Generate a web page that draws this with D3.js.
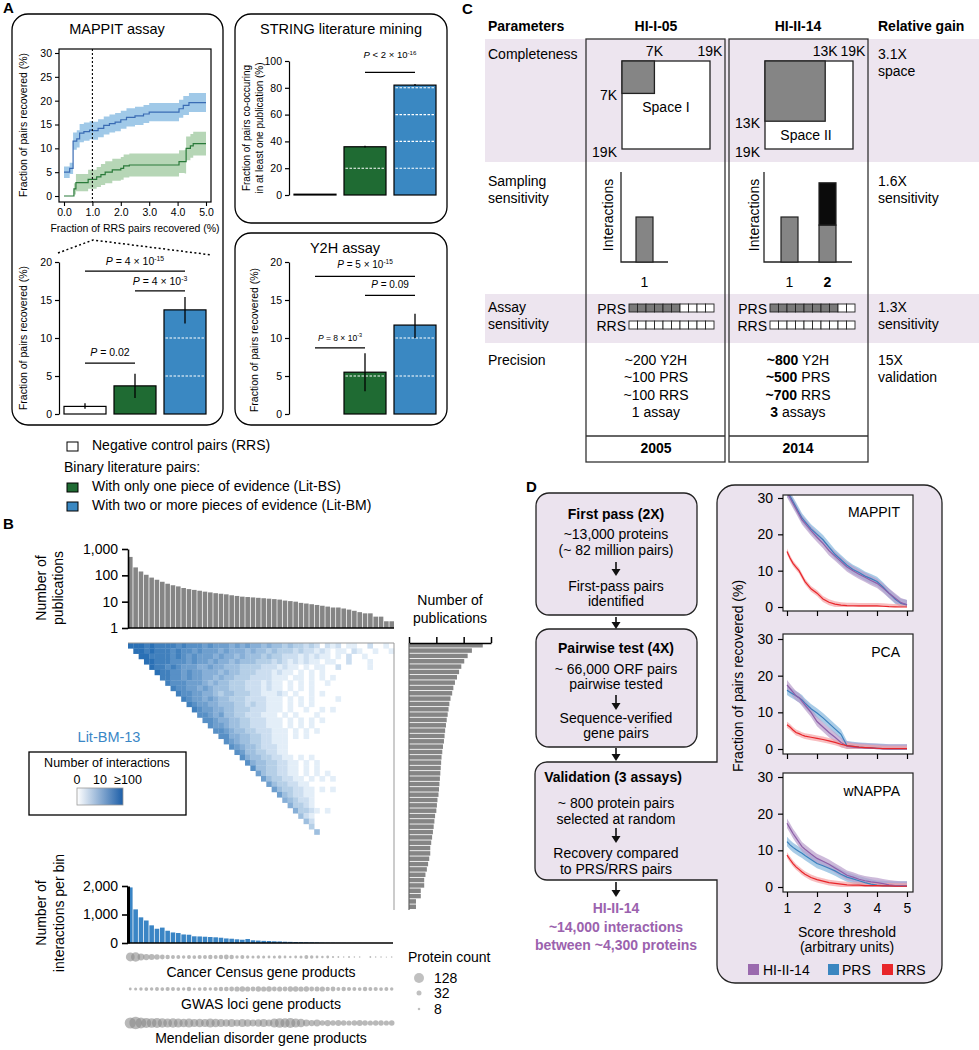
<!DOCTYPE html>
<html><head><meta charset="utf-8">
<script src="https://cdn.jsdelivr.net/npm/d3@7/dist/d3.min.js"></script>
<style>html,body{margin:0;padding:0;background:#fff;}</style>
</head><body>
<script>
// ================= DATA =================
const groups = ["RRS", "Lit-BS", "Lit-BM"];
const groupFill = ["#ffffff", "#1f6b33", "#3a88c2"];
const legendLabels = ["Negative control pairs (RRS)", "With only one piece of evidence (Lit-BS)", "With two or more pieces of evidence (Lit-BM)"];

// Panel A – MAPPIT recovery curves
const mapX_BM = [0,0.15,0.2,0.29,0.32,0.45,0.55,0.7,0.9,1.0,1.2,1.4,1.6,1.8,2.0,2.2,2.5,2.8,3.0,3.5,3.95,4.05,4.2,4.4,5.0];
const mapY_BM = [5,5,5.8,5.8,11.5,12,13.2,13.5,13.8,13.7,14.2,14.8,15.2,15.5,16,16.5,16.8,17.2,17.6,17.6,17.6,18.3,19,19.6,19.6];
const mapH_BM = [1.2,1.2,1.2,1.2,1.8,1.8,1.9,1.9,1.9,1.9,1.9,1.9,1.9,1.9,1.9,1.9,1.9,1.9,1.9,1.9,1.9,1.9,2,2,2];
const mapX_BS = [0,0.3,0.35,0.42,0.7,0.85,1.0,1.15,1.3,1.45,1.6,1.7,2.0,2.1,2.3,4.0,4.05,4.25,4.3,4.45,4.55,5.0];
const mapY_BS = [0,0,1.5,2.8,2.8,3.5,3.5,4,4.5,5,5,5.5,5.8,6.3,6.5,6.5,7.2,7.2,10,10.5,11,11];
const mapH_BS = [0,0,1.2,1.8,1.8,2,2,2.1,2.2,2.3,2.3,2.3,2.4,2.4,2.4,2.4,2.4,2.5,2.5,2.5,2.5,2.5];
const mapXTicks = [0,1,2,3,4,5];
const mapYTicks = [0,5,10,15,20,25,30];

// Panel A – bar charts
const mappitBar = [1.0, 3.7, 13.7], mappitLo = [0.7, 2.1, 11.9], mappitHi = [1.4, 5.3, 15.4];
const stringBar = [0.6, 36, 82],    stringLo = [0.4, 35.4, 81.5], stringHi = [0.8, 36.8, 82.8];
const y2hBar = [0, 5.5, 11.7],      y2hLo = [0, 3.0, 10.0],       y2hHi = [0, 8.0, 13.2];
const mappitP = [{a:0,b:2,op:"=",m:"4",e:"-15"},{a:1,b:2,op:"=",m:"4",e:"-3"},{a:0,b:1,op:"=",m:"0.02"}];
const stringP = [{a:1,b:2,op:"<",m:"2",e:"-16"}];
const y2hP = [{a:0,b:2,op:"=",m:"5",e:"-15"},{a:1,b:2,op:"=",m:"0.09"},{a:0,b:1,op:"=",m:"8",e:"-3"}];

// Panel B
const pubs = [500,200,140,105,82,68,57,48,42,38,33,30,28,26,24,22.5,21,20,19,17.5,16.5,15.5,15,14.5,14,13.5,13,12.5,12,11,10.5,10,9,8.5,8,7.5,7,6.5,6,6,5.5,5,4.5,4,3.6,3.6,2.7,2.7,1.8,1.8];
const pubTicks = [1,10,100,1000];
const heatRows = [
"99989888878777676665656554544343323202120110020010",
"9989888787767666565554544343332322121011021001001",
"998888787676665655454443433222121211010200100",
"99888777676656554544433323212121101100200010",
"9887876665565544433332221211010110020000010",
"988776766555454433322212110101010000",
"88776766554544333222211101101010100",
"8777666545443332221211010101001",
"877665654443332221211010101",
"8776655434433322111210100101",
"876656544333222211101010100001",
"87665544433232211101010100",
"8766554433322211101001001010",
"776564433222111010100010",
"77655443322211101010101",
"7665443322211101010100",
"776544332221110101010",
"77554433221110101",
"7654433221110",
"765443222110",
"76443322110",
"7544332211010100",
"754433221101010",
"7443322110101",
"643322110101010",
"64332211010101",
"6433221100",
"643322110101",
"64322110",
"5432210",
"53321",
"5332101",
"421",
"42",
"3",
"4"];
const interactionsPerBin = [1950,1180,900,790,620,500,540,430,370,350,300,290,235,230,220,210,200,185,160,150,130,115,140,95,85,75,70,60,55,45,40,35,30,25,22,18,12,10,8,6,4,3,2,2,1,1,0,0,0,0];
const binTicks = [0,1000,2000];
const cancerCounts = [100,110,60,50,45,40,30,25,20,20,15,20,18,22,20,25,20,25,30,25,15,20,15,12,15,12,10,12,15,10,8,10,12,20,15,10,8,10,6,4,3,5,3,3,0,4,3,3,2,3];
const gwasCounts = [10,12,15,18,15,20,18,22,20,18,15,25,12,18,20,15,22,25,28,30,35,40,35,30,38,35,40,30,35,30,38,40,35,38,30,32,35,25,30,20,25,22,20,18,25,20,22,18,20,15];
const mendelCounts = [160,200,150,130,120,130,110,100,110,100,90,100,80,90,80,100,90,80,70,80,60,80,70,60,70,80,60,100,120,110,130,100,90,60,50,60,40,50,40,45,40,35,40,45,40,35,40,38,35,40];
const dotRowLabels = ["Cancer Census gene products","GWAS loci gene products","Mendelian disorder gene products"];
const proteinLegend = [128, 32, 8];

// Panel C
const spaceTotal = 19;
const spaceTested = [7, 13];
const screenBars05 = [1.0];
const screenGray14 = [1.0, 0.82];
const screenBlack14 = [0, 0.94];
const prsPositive = [6, 8];
const boxesPerRow = 10;
const precision05 = [["~200"," Y2H"],["~100"," PRS"],["~100"," RRS"],["1"," assay"]];
const precision14 = [["~800"," Y2H"],["~500"," PRS"],["~700"," RRS"],["3"," assays"]];
const gains = [["3.1X","space"],["1.6X","sensitivity"],["1.3X","sensitivity"],["15X","validation"]];

// Panel D
const dX = [1,1.1,1.2,1.3,1.4,1.5,1.6,1.8,2.0,2.2,2.4,2.6,2.8,3.0,3.2,3.4,3.6,3.8,4.0,4.2,4.4,4.6,4.8,5.0];
const dMapHI  = [31.5,30,28.5,27,25.5,24,23,21,19.2,17.5,15.5,14,12.5,11,10,9,8.2,7.3,6.5,5.2,3.8,2.5,1.2,0.6];
const dMapPRS = [31.5,30.5,29,27.5,26,24.5,23.5,21.5,20,18.5,16.5,14.5,13,11.5,10.3,9.5,8.5,7.8,7,5.5,3.8,2.2,1,0.6];
const dMapRRS = [15.3,13.5,12,11,10,8.5,7,5,3.8,2.2,1.3,0.8,0.5,0.4,0.35,0.3,0.3,0.3,0.3,0.2,0.1,0.05,0,0];
const dPcaHI  = [17.5,16.5,15.5,14.5,14,13,12,10,7.5,6,4.5,3.2,1.8,0.8,0.5,0.4,0.3,0.2,0.1,0,0,0,0,0];
const dPcaPRS = [16,15.5,15,14.5,14,13.4,12.5,11,9.8,8.5,7,5.5,4,0.9,0.7,0.5,0.4,0.3,0.2,0.1,0,0,0,0];
const dPcaRRS = [6.6,6,5.2,4.5,4.2,3.8,3.5,3.2,2.9,2.6,2.2,1.8,1.3,0.9,0.7,0.5,0.4,0.3,0.2,0.1,0.1,0.1,0.1,0.1];
const dWnHI   = [17.4,16,14.6,13.4,12.2,11,10.3,9,7.8,7,6.2,5.2,4.2,3.2,2.7,2.1,1.7,1.4,1.2,0.9,0.6,0.4,0.3,0.3];
const dWnPRS  = [12.4,11.5,10.8,10.2,9.7,9.2,8.6,7.5,6.4,5.8,5.1,4.4,3.5,2.7,2.2,1.7,1.2,0.8,0.5,0.4,0.3,0.3,0.3,0.3];
const dWnRRS  = [8.7,7.5,6.4,5.5,4.8,4.1,3.5,2.6,2.0,1.6,1.2,1.0,0.8,0.6,0.5,0.5,0.4,0.4,0.4,0.3,0.3,0.2,0.2,0.2];
const dAssays = ["MAPPIT","PCA","wNAPPA"];
const dSeries = ["HI-II-14","PRS","RRS"];
const dLineColor = ["#8e5fa8","#3a80bd","#e8262a"];
const dLegendColor = ["#9a6aae","#3a86c0","#e8262a"];
const dBandColor = ["#b89ccb","#84b6dd","#f5a3a5"];
const dBandHalf = [1.3,1.3,0.8];
const dXTicks = [1,2,3,4,5];
const dYTicks = [0,10,20,30];

// ================= DRAWING =================
const FONT = '"Liberation Sans", Arial, Helvetica, sans-serif';
const svg = d3.select("body").append("svg").attr("width",979).attr("height",1050).attr("font-family",FONT);

function T(p,x,y,s,size,o={}){
  const t=p.append("text").attr("x",x).attr("y",y).attr("font-size",size)
    .attr("text-anchor",o.anchor||"start").attr("fill",o.fill||"#000");
  if(o.bold) t.attr("font-weight","bold");
  if(o.rot) t.attr("transform",`rotate(-90,${x},${y})`);
  if(Array.isArray(s)) s.forEach(seg=>{const ts=t.append("tspan").text(seg[0]); if(seg[1]) ts.attr("font-weight","bold");});
  else t.text(s);
  return t;
}
function styleAxis(g,size,w){
  g.attr("font-family",FONT).attr("font-size",size);
  g.selectAll("path,line").attr("stroke","#000").attr("stroke-width",w);
  g.selectAll("text").attr("fill","#000");
  return g;
}
function pLabel(p,x,y,o,size){
  const t=p.append("text").attr("x",x).attr("y",y).attr("text-anchor","middle").attr("font-size",size);
  t.append("tspan").attr("font-style","italic").text("P");
  if(o.e){ t.append("tspan").text(" "+o.op+" "+o.m+" × 10");
    t.append("tspan").attr("dy",-size*0.4).attr("font-size",size*0.65).text(o.e); }
  else t.append("tspan").text(" "+o.op+" "+o.m);
}
const zip=(xs,ys,hs)=>xs.map((x,i)=>({x:x,y:ys[i],h:hs?hs[i]:0}));

// ---------- Panel A ----------
T(svg,3,13,"A",15,{bold:true});
[[12,14,211,411],[235,14,212,209],[235,233,212,192]].forEach(b=>
  svg.append("rect").attr("x",b[0]).attr("y",b[1]).attr("width",b[2]).attr("height",b[3]).attr("rx",16)
    .attr("fill","none").attr("stroke","#000").attr("stroke-width",1.3));
T(svg,117,34,"MAPPIT assay",14.5,{anchor:"middle"});
T(svg,341,34,"STRING literature mining",14.5,{anchor:"middle"});
T(svg,345,253,"Y2H assay",14.5,{anchor:"middle"});

// MAPPIT line chart
(function(){
  const g=svg.append("g");
  const x=d3.scaleLinear().domain([0,5]).range([64,206]);
  const y=d3.scaleLinear().domain([0,30]).range([196,53]);
  g.append("clipPath").attr("id","clipA").append("rect").attr("x",59).attr("y",49).attr("width",152).attr("height",153);
  const cg=g.append("g").attr("clip-path","url(#clipA)");
  const area=d3.area().x(d=>x(d.x)).y0(d=>y(d.y-d.h)).y1(d=>y(d.y+d.h)).curve(d3.curveStepAfter);
  const line=d3.line().x(d=>x(d.x)).y(d=>y(d.y)).curve(d3.curveStepAfter);
  const bs=zip(mapX_BS,mapY_BS,mapH_BS), bm=zip(mapX_BM,mapY_BM,mapH_BM);
  cg.append("path").attr("d",area(bs)).attr("fill","#a9cfa9").attr("opacity",0.85);
  cg.append("path").attr("d",area(bm)).attr("fill","#8fc0e4").attr("opacity",0.85);
  cg.append("path").attr("d",line(bs)).attr("fill","none").attr("stroke","#2a7a3a").attr("stroke-width",1.2);
  cg.append("path").attr("d",line(bm)).attr("fill","none").attr("stroke","#3a6cb4").attr("stroke-width",1.2);
  g.append("line").attr("x1",x(1)).attr("x2",x(1)).attr("y1",49).attr("y2",202).attr("stroke","#000").attr("stroke-width",1.1).attr("stroke-dasharray","2,2");
  g.append("rect").attr("x",59).attr("y",49).attr("width",152).attr("height",153).attr("fill","none").attr("stroke","#000").attr("stroke-width",1.2);
  styleAxis(g.append("g").attr("transform","translate(59,0)").call(d3.axisLeft(y).tickValues(mapYTicks).tickSize(4).tickPadding(3)).call(a=>a.select(".domain").remove()),10.5,1.1);
  styleAxis(g.append("g").attr("transform","translate(0,202)").call(d3.axisBottom(x).tickValues(mapXTicks).tickSize(4).tickPadding(3)).call(a=>a.select(".domain").remove()),10.5,1.1);
  T(g,135,232,"Fraction of RRS pairs recovered (%)",10.5,{anchor:"middle"});
  T(g,27,125,"Fraction of pairs recovered (%)",10.5,{anchor:"middle",rot:true});
  g.append("path").attr("d","M58,253 L93,240 L212,255").attr("fill","none").attr("stroke","#000").attr("stroke-width",1.5).attr("stroke-dasharray","2,2.5");
})();

function barPanel(c){
  const g=svg.append("g");
  const x=d3.scaleBand().domain(groups).range(c.xr).paddingInner(0.16).paddingOuter(0.08);
  const y=d3.scaleLinear().domain(c.dom).range(c.yr);
  groups.forEach((k,i)=>{
    const v=c.vals[i], bw=x.bandwidth(), cx=x(k)+bw/2;
    g.append("rect").attr("x",x(k)).attr("y",y(v)).attr("width",bw).attr("height",y(0)-y(v))
      .attr("fill",groupFill[i]).attr("stroke","#000").attr("stroke-width",1.2);
    if(i>0) c.ticks.filter(t=>t>0 && t<v-0.3).forEach(t=>
      g.append("line").attr("x1",x(k)+1.5).attr("x2",x(k)+bw-1.5).attr("y1",y(t)).attr("y2",y(t))
        .attr("stroke","#fff").attr("stroke-width",1.1).attr("stroke-dasharray","2.5,1.5"));
    if(c.hi[i]>c.lo[i]) g.append("line").attr("x1",cx).attr("x2",cx).attr("y1",y(c.lo[i])).attr("y2",y(c.hi[i]))
      .attr("stroke","#000").attr("stroke-width",1.3);
  });
  styleAxis(g.append("g").attr("transform",`translate(${c.ax},0)`).call(d3.axisLeft(y).tickValues(c.ticks).tickSize(4).tickPadding(3).tickSizeOuter(0)),10.5,1.2);
  c.p.forEach((p,j)=>{
    const ly=y(c.pY[j]);
    const x1=x(groups[p.a])+x.bandwidth()/2, x2=x(groups[p.b])+x.bandwidth()/2;
    g.append("line").attr("x1",x1).attr("x2",x2).attr("y1",ly).attr("y2",ly).attr("stroke","#000").attr("stroke-width",1.3);
    pLabel(g,(x1+x2)/2,ly-c.pGap[j],p,c.pSize[j]);
  });
  return g;
}
barPanel({xr:[60,210],dom:[0,20],yr:[414,262],ax:59,vals:mappitBar,lo:mappitLo,hi:mappitHi,ticks:[0,5,10,15,20],
  p:mappitP,pY:[18.8,16.2,6.7],pGap:[6,6,7],pSize:[10.5,10.5,10.5]});
T(svg,27,338,"Fraction of pairs recovered (%)",10.5,{anchor:"middle",rot:true});
barPanel({xr:[290,440],dom:[0,100],yr:[195,61],ax:289,vals:stringBar,lo:stringLo,hi:stringHi,ticks:[0,20,40,60,80,100],
  p:stringP,pY:[91.5],pGap:[14],pSize:[9.5]});
T(svg,250,128,"Fraction of pairs co-occuring",10,{anchor:"middle",rot:true});
T(svg,263,128,"in at least one publication (%)",10,{anchor:"middle",rot:true});
barPanel({xr:[290,440],dom:[0,20],yr:[414,262],ax:289,vals:y2hBar,lo:y2hLo,hi:y2hHi,ticks:[0,5,10,15,20],
  p:y2hP,pY:[18.1,15.6,8.7],pGap:[8,7,7],pSize:[10,10,8.5]});
T(svg,258,340,"Fraction of pairs recovered (%)",10.5,{anchor:"middle",rot:true});

// legend
[[442,0,450],[483,1,491],[502,2,510]].forEach(r=>{
  svg.append("rect").attr("x",67).attr("y",r[0]).attr("width",11).attr("height",9).attr("fill",groupFill[r[1]]).attr("stroke","#000").attr("stroke-width",1);
  T(svg,92,r[2],legendLabels[r[1]],14);
});
T(svg,64,472,"Binary literature pairs:",14);

// ---------- Panel B ----------
T(svg,3,529,"B",15,{bold:true});
(function(){
  const g=svg.append("g");
  const n=pubs.length;
  const bx=d3.scaleBand().domain(d3.range(n)).range([128,394]).paddingInner(0.14);
  const py=d3.scaleLog().domain([1,1000]).range([628,549]);
  pubs.forEach((v,i)=>g.append("rect").attr("x",bx(i)).attr("y",py(v)).attr("width",bx.bandwidth()).attr("height",py(1)-py(v)).attr("fill","#858585"));
  styleAxis(g.append("g").attr("transform","translate(128,0)").call(d3.axisLeft(py).tickValues(pubTicks).tickFormat(d3.format(",")).tickSize(6).tickPadding(4).tickSizeOuter(0)),14,1.6);
  g.append("line").attr("x1",128).attr("x2",394).attr("y1",628).attr("y2",628).attr("stroke","#000").attr("stroke-width",1.6);
  T(g,46,588,"Number of",14,{anchor:"middle",rot:true});
  T(g,63,588,"publications",14,{anchor:"middle",rot:true});

  // heatmap
  const hx=d3.scaleBand().domain(d3.range(n)).range([128,394]);
  const hy=d3.scaleBand().domain(d3.range(n)).range([643,909]);
  const col=d3.scaleLinear().domain([1,9]).range(["#e3eef8","#2a70b5"]);
  heatRows.forEach((row,r)=>{
    for(let k=0;k<row.length && r+k<n;k++){
      const v=+row[k]; if(!v) continue;
      g.append("rect").attr("x",hx(r+k)).attr("y",hy(r)).attr("width",hx.bandwidth()+0.3).attr("height",hy.bandwidth()+0.3).attr("fill",col(v));
    }
  });
  g.append("path").attr("d","M128,643 H394 V910").attr("fill","none").attr("stroke","#999").attr("stroke-width",1);

  // right horizontal bars
  const ry=d3.scaleBand().domain(d3.range(n)).range([643,909]).paddingInner(0.16);
  const rx=d3.scaleLog().domain([1,1000]).range([409,491]);
  pubs.forEach((v,i)=>g.append("rect").attr("x",rx(1)).attr("y",ry(i)).attr("width",rx(v)-rx(1)).attr("height",ry.bandwidth()).attr("fill","#858585"));
  styleAxis(g.append("g").attr("transform","translate(0,643)").call(d3.axisTop(rx).tickValues(pubTicks).tickFormat("").tickSize(6).tickSizeOuter(0)),14,1.5);
  g.append("line").attr("x1",409).attr("x2",409).attr("y1",643).attr("y2",910).attr("stroke","#666").attr("stroke-width",1.2);
  T(g,450,605,"Number of",14,{anchor:"middle"});
  T(g,450,623,"publications",14,{anchor:"middle"});

  T(g,109,742,"Lit-BM-13",14.5,{anchor:"middle",fill:"#3a87c6"});
  g.append("rect").attr("x",29).attr("y",752).attr("width",157).attr("height",63).attr("fill","#fff").attr("stroke","#000").attr("stroke-width",1.3);
  T(g,107,767,"Number of interactions",12.5,{anchor:"middle"});
  T(g,77,784,"0",12.5,{anchor:"middle"});
  T(g,100,784,"10",12.5,{anchor:"middle"});
  T(g,128,784,"≥100",12.5,{anchor:"middle"});
  const grad=svg.append("defs").append("linearGradient").attr("id","hg");
  grad.append("stop").attr("offset","0%").attr("stop-color","#ffffff");
  grad.append("stop").attr("offset","100%").attr("stop-color","#1c5ea8");
  g.append("rect").attr("x",77).attr("y",788).attr("width",46).attr("height",17).attr("fill","url(#hg)").attr("stroke","#999").attr("stroke-width",0.8);

  // interactions per bin
  const iy=d3.scaleLinear().domain([0,2000]).range([943,886]);
  interactionsPerBin.forEach((v,i)=>{ if(v>0) g.append("rect").attr("x",bx(i)).attr("y",iy(v)).attr("width",bx.bandwidth()).attr("height",iy(0)-iy(v)).attr("fill","#3a85c5"); });
  g.append("line").attr("x1",128).attr("x2",393).attr("y1",943).attr("y2",943).attr("stroke","#000").attr("stroke-width",1.6);
  const ia=styleAxis(g.append("g").attr("transform","translate(128,0)").call(d3.axisLeft(iy).tickValues(binTicks).tickFormat(d3.format(",")).tickSize(6).tickPadding(4).tickSizeOuter(0)),14,1.6);
  ia.select(".domain").attr("stroke-width",3);
  T(g,46,913,"Number of",14,{anchor:"middle",rot:true});
  T(g,64,913,"interactions per bin",14,{anchor:"middle",rot:true});

  // dot rows
  const rs=d3.scaleSqrt().domain([0,128]).range([0,5]);
  [[cancerCounts,957,977],[gwasCounts,989,1009],[mendelCounts,1023,1043]].forEach((row,j)=>{
    row[0].forEach((c,i)=>{ if(c>0) g.append("circle").attr("cx",bx(i)+bx.bandwidth()/2).attr("cy",row[1]).attr("r",rs(c)).attr("fill","#8a8a8a").attr("opacity",0.6); });
    T(g,261,row[2],dotRowLabels[j],14,{anchor:"middle"});
  });
  T(g,408,962,"Protein count",14);
  [[978,983],[993,998],[1009,1014]].forEach((p,j)=>{
    g.append("circle").attr("cx",419).attr("cy",p[0]).attr("r",rs(proteinLegend[j])).attr("fill","#8c8c8c").attr("opacity",0.55);
    T(g,434,p[1],String(proteinLegend[j]),14);
  });
})();

// ---------- Panel C ----------
T(svg,462,14,"C",15,{bold:true});
(function(){
  const g=svg.append("g");
  const shade="#ede5ef";
  g.append("rect").attr("x",485).attr("y",39).attr("width",494).attr("height",123).attr("fill",shade);
  g.append("rect").attr("x",485).attr("y",294).attr("width",494).attr("height",49).attr("fill",shade);
  T(g,488,31,"Parameters",14,{bold:true});
  T(g,656,31,"HI-I-05",14,{bold:true,anchor:"middle"});
  T(g,798,31,"HI-II-14",14,{bold:true,anchor:"middle"});
  T(g,878,31,"Relative gain",14,{bold:true});
  T(g,488,59,"Completeness",14);
  T(g,488,186,"Sampling",14); T(g,488,203,"sensitivity",14);
  T(g,488,312,"Assay",14); T(g,488,329,"sensitivity",14);
  T(g,488,365,"Precision",14);
  [[59,76],[186,203],[312,329],[365,382]].forEach((yy,i)=>{ T(g,878,yy[0],gains[i][0],14); T(g,878,yy[1],gains[i][1],14); });
  const cols=[586,729], cw=139;
  cols.forEach((cx,ci)=>{
    g.append("rect").attr("x",cx).attr("y",39).attr("width",cw).attr("height",423).attr("fill","none").attr("stroke","#333").attr("stroke-width",1.3);
    g.append("line").attr("x1",cx).attr("x2",cx+cw).attr("y1",436).attr("y2",436).attr("stroke","#333").attr("stroke-width",1.3);
  });
  T(g,656,453,"2005",14,{bold:true,anchor:"middle"});
  T(g,798,453,"2014",14,{bold:true,anchor:"middle"});
  const s=d3.scaleLinear().domain([0,spaceTotal]).range([0,88]);
  [[622,"Space I"],[765,"Space II"]].forEach((d,i)=>{
    const x0=d[0], y0=61, k=spaceTested[i];
    g.append("rect").attr("x",x0).attr("y",y0).attr("width",s(spaceTotal)).attr("height",s(spaceTotal)).attr("fill","#fff").attr("stroke","#222").attr("stroke-width",1.3);
    g.append("rect").attr("x",x0).attr("y",y0).attr("width",s(k)).attr("height",s(k)).attr("fill","#858585").attr("stroke","#222").attr("stroke-width",1.3);
    T(g,x0+s(k),56,k+"K",14,{anchor:"middle"});
    T(g,x0+s(spaceTotal),56,spaceTotal+"K",14,{anchor:"middle"});
    T(g,x0-5,y0+s(k)+7,k+"K",14,{anchor:"end"});
    T(g,x0-5,y0+s(spaceTotal)+8,spaceTotal+"K",14,{anchor:"end"});
    T(g,x0+s(spaceTotal)/2-(i?3:0),y0+s(k)+19,d[1],14,{anchor:"middle"});
  });
  const sy=d3.scaleLinear().domain([0,2]).range([262,172]);
  [[621,668,[636],screenBars05,[0],["1"]],[764,852,[781,819],screenGray14,screenBlack14,["1","2"]]].forEach((c,ci)=>{
    g.append("path").attr("d",`M${c[0]},172 V262 H${c[1]}`).attr("fill","none").attr("stroke","#222").attr("stroke-width",1.3);
    c[2].forEach((bx,j)=>{
      const gv=c[3][j], kv=c[4][j];
      g.append("rect").attr("x",bx).attr("y",sy(gv)).attr("width",17).attr("height",sy(0)-sy(gv)).attr("fill","#858585").attr("stroke","#222").attr("stroke-width",1.2);
      if(kv>0) g.append("rect").attr("x",bx).attr("y",sy(gv+kv)).attr("width",17).attr("height",sy(gv)-sy(gv+kv)).attr("fill","#0b0b0b").attr("stroke","#222").attr("stroke-width",1.2);
      T(g,bx+8.5,287,c[5][j],14,{anchor:"middle",bold:j===1});
    });
    T(g,ci?759:613,215,"Interactions",14,{anchor:"middle",rot:true});
  });
  [[626,629],[767,770]].forEach((c,ci)=>{
    const bxs=d3.scaleBand().domain(d3.range(boxesPerRow)).range([c[1],c[1]+85]);
    T(g,c[0],314,"PRS",14,{anchor:"end"});
    T(g,c[0],331,"RRS",14,{anchor:"end"});
    d3.range(boxesPerRow).forEach(i=>{
      g.append("rect").attr("x",bxs(i)).attr("y",304).attr("width",bxs.bandwidth()).attr("height",8).attr("fill",i<prsPositive[ci]?"#7a7a7a":"#fff").attr("stroke","#222").attr("stroke-width",0.9);
      g.append("rect").attr("x",bxs(i)).attr("y",321).attr("width",bxs.bandwidth()).attr("height",8).attr("fill","#fff").attr("stroke","#222").attr("stroke-width",0.9);
    });
  });
  [365,382,400,417].forEach((yy,i)=>{
    T(g,656,yy,[[precision05[i][0],false],[precision05[i][1],false]],14,{anchor:"middle"});
    T(g,798,yy,[[precision14[i][0],true],[precision14[i][1],false]],14,{anchor:"middle"});
  });
})();

// ---------- Panel D ----------
T(svg,526,492,"D",15,{bold:true});
(function(){
  const g=svg.append("g");
  const fill="#ebe3ee";
  const L=717,Tp=485,R=942,B=983,r=18,l=535,t=762,b=880,r2=12;
  g.append("path").attr("d",`M${L},${Tp+r} A${r},${r} 0 0 1 ${L+r},${Tp} H${R-r} A${r},${r} 0 0 1 ${R},${Tp+r} V${B-r} A${r},${r} 0 0 1 ${R-r},${B} H${L+r} A${r},${r} 0 0 1 ${L},${B-r} V${b} H${l+r2} A${r2},${r2} 0 0 1 ${l},${b-r2} V${t+r2} A${r2},${r2} 0 0 1 ${l+r2},${t} H${L} Z`)
    .attr("fill",fill).attr("stroke","#222").attr("stroke-width",1.3);
  [[493,615],[629,747]].forEach(bb=>g.append("rect").attr("x",536).attr("y",bb[0]).attr("width",161).attr("height",bb[1]-bb[0]).attr("rx",13).attr("fill",fill).attr("stroke","#222").attr("stroke-width",1.3));
  const cx=616;
  function arrow(y1,y2){ g.append("line").attr("x1",cx).attr("x2",cx).attr("y1",y1).attr("y2",y2-5).attr("stroke","#111").attr("stroke-width",1.6);
    g.append("path").attr("d",`M${cx-4.5},${y2-7} L${cx+4.5},${y2-7} L${cx},${y2} Z`).attr("fill","#111"); }
  T(g,cx,519,"First pass (2X)",14,{anchor:"middle",bold:true});
  T(g,cx,539,"~13,000 proteins",14,{anchor:"middle"});
  T(g,cx,555,"(~ 82 million pairs)",14,{anchor:"middle"});
  arrow(562,576);
  T(g,cx,591,"First-pass pairs",14,{anchor:"middle"});
  T(g,cx,606,"identified",14,{anchor:"middle"});
  arrow(617,629);
  T(g,cx,653,"Pairwise test (4X)",14,{anchor:"middle",bold:true});
  T(g,cx,674,"~ 66,000 ORF pairs",14,{anchor:"middle"});
  T(g,cx,689,"pairwise tested",14,{anchor:"middle"});
  arrow(695,710);
  T(g,cx,723,"Sequence-verified",14,{anchor:"middle"});
  T(g,cx,738,"gene pairs",14,{anchor:"middle"});
  arrow(748,761);
  T(g,613,782,"Validation (3 assays)",14,{anchor:"middle",bold:true});
  T(g,cx,808,"~ 800 protein pairs",14,{anchor:"middle"});
  T(g,cx,824,"selected at random",14,{anchor:"middle"});
  arrow(828,843);
  T(g,cx,858,"Recovery compared",14,{anchor:"middle"});
  T(g,cx,874,"to PRS/RRS pairs",14,{anchor:"middle"});
  arrow(882,897);
  const pur="#9b62ae";
  T(g,cx,913,"HI-II-14",14,{anchor:"middle",bold:true,fill:pur});
  T(g,cx,932,"~14,000 interactions",14,{anchor:"middle",bold:true,fill:pur});
  T(g,cx,950,"between ~4,300 proteins",14,{anchor:"middle",bold:true,fill:pur});

  const frames=[[495,611,607,498,517],[634,754,749,639,657],[773,892,887,777,796]];
  const data=[[dMapHI,dMapPRS,dMapRRS],[dPcaHI,dPcaPRS,dPcaRRS],[dWnHI,dWnPRS,dWnRRS]];
  const x=d3.scaleLinear().domain([1,5]).range([787,907]);
  frames.forEach((f,ci)=>{
    const y=d3.scaleLinear().domain([0,30]).range([f[2],f[3]]);
    g.append("rect").attr("x",783).attr("y",f[0]).attr("width",130).attr("height",f[1]-f[0]).attr("fill","#fff");
    g.append("clipPath").attr("id","cd"+ci).append("rect").attr("x",783).attr("y",f[0]).attr("width",130).attr("height",f[1]-f[0]);
    const cg=g.append("g").attr("clip-path",`url(#cd${ci})`);
    const area=d3.area().x(d=>x(d.x)).y0(d=>y(Math.max(0,d.y-d.h))).y1(d=>y(d.y+d.h));
    const line=d3.line().x(d=>x(d.x)).y(d=>y(d.y));
    [1,0,2].forEach(si=>{ const pts=zip(dX,data[ci][si],dX.map(()=>dBandHalf[si]));
      cg.append("path").attr("d",area(pts)).attr("fill",dBandColor[si]).attr("opacity",0.7); });
    [1,0,2].forEach(si=>{ const pts=zip(dX,data[ci][si]);
      cg.append("path").attr("d",line(pts)).attr("fill","none").attr("stroke",dLineColor[si]).attr("stroke-width",1.2); });
    g.append("rect").attr("x",783).attr("y",f[0]).attr("width",130).attr("height",f[1]-f[0]).attr("fill","none").attr("stroke","#222").attr("stroke-width",1.2);
    styleAxis(g.append("g").attr("transform","translate(783,0)").call(d3.axisLeft(y).tickValues(dYTicks).tickSize(5).tickPadding(5)).call(a=>a.select(".domain").remove()),14,1.2);
    styleAxis(g.append("g").attr("transform",`translate(0,${f[1]})`).call(d3.axisBottom(x).tickValues(dXTicks).tickSize(5).tickPadding(6).tickFormat(ci===2?d3.format("d"):"")).call(a=>a.select(".domain").remove()),14,1.2);
    T(g,900,f[4],dAssays[ci],14,{anchor:"end"});
  });
  T(g,847,937,"Score threshold",14,{anchor:"middle"});
  T(g,847,952,"(arbitrary units)",14,{anchor:"middle"});
  T(g,743,676,"Fraction of pairs recovered (%)",14,{anchor:"middle",rot:true});
  [[748,763],[828,842],[882,896]].forEach((p,i)=>{
    g.append("rect").attr("x",p[0]).attr("y",964).attr("width",11).attr("height",11).attr("fill",dLegendColor[i]);
    T(g,p[1],975,dSeries[i],14);
  });
})();
</script>
</body></html>
